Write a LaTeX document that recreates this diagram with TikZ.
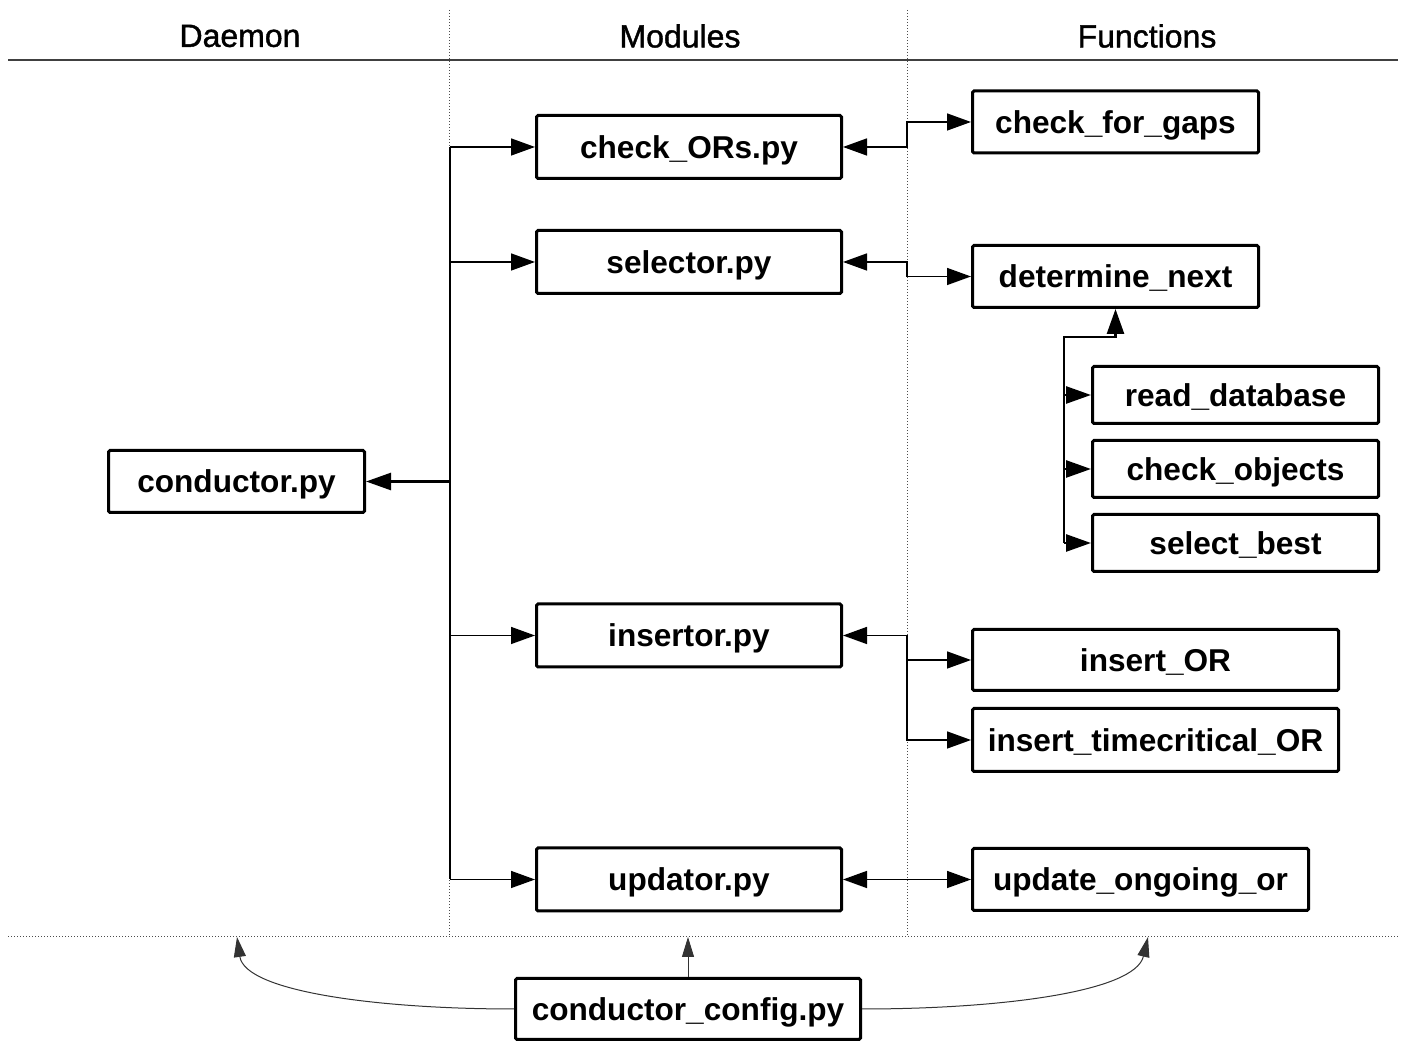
\documentclass[tikz,border=0pt]{standalone}
\usepackage{fontspec}
\setmainfont{Liberation Sans}
\newfontfamily\hdrfont[FakeBold=1.3]{Liberation Sans}
\usetikzlibrary{arrows.meta,calc}
\tikzset{
  fbox/.style={draw, line width=1.5pt, fill=white, rounded corners=0.8pt, inner sep=0pt,
    text depth=0pt,
    font=\bfseries\fontsize{15.8}{18}\selectfont},
  hdr/.style={font=\hdrfont\fontsize{16}{19}\selectfont},
  conn/.style={line width=0.75pt, black, >={Triangle[length=12pt,width=8.5pt]}},
  tree/.style={line width=1.3pt, black, >={Triangle[length=12.5pt,width=8.5pt]}},
  cfgarr/.style={line width=0.5pt, black!80, >={Triangle[length=10pt,width=6pt]}},
  sep/.style={densely dotted, line width=0.5pt, black!70},
}
\begin{document}
\begin{tikzpicture}[x=0.5pt,y=-0.5pt]
\useasboundingbox (0,0) rectangle (1405,1042);
% separators
\draw[line width=0.7pt, black!75] (8,60) -- (1398,60);
\draw[sep] (449,10) -- (449,935);
\draw[sep] (907,10) -- (907,935);
\draw[sep] (8,937) -- (1398,937);
% headers
\node[hdr] (hd) at (240,36) {Daemon};
\node[hdr] (hm) at (680,36) {Modules};
\node[hdr] (hf) at (1147,36) {Functions};
% boxes
\node[fbox, minimum width=128pt, minimum height=31pt] (cond) at (236.5,481.5) {conductor.py};
\node[fbox, minimum width=152.5pt, minimum height=31.5pt] (chk) at (689,147) {check\_ORs.py};
\node[fbox, minimum width=152.5pt, minimum height=31.5pt] (sel) at (689,262) {selector.py};
\node[fbox, minimum width=152.5pt, minimum height=31.5pt] (ins) at (689,635.5) {insertor.py};
\node[fbox, minimum width=152.5pt, minimum height=31.5pt] (upd) at (689,879.5) {updator.py};
\node[fbox, minimum width=143pt, minimum height=31pt] (gaps) at (1115.5,122) {check\_for\_gaps};
\node[fbox, minimum width=143pt, minimum height=31pt] (det) at (1115.5,276.5) {determine\_next};
\node[fbox, minimum width=143pt, minimum height=28.5pt] (rd) at (1235.5,395) {read\_database};
\node[fbox, minimum width=143pt, minimum height=28.5pt] (co) at (1235.5,469) {check\_objects};
\node[fbox, minimum width=143pt, minimum height=28.5pt] (sb) at (1235.5,543) {select\_best};
\node[fbox, minimum width=183pt, minimum height=30.5pt] (ior) at (1155.5,660) {insert\_OR};
\node[fbox, minimum width=183pt, minimum height=31.5pt] (itc) at (1155.5,740) {insert\_timecritical\_OR};
\node[fbox, minimum width=168pt, minimum height=31pt] (uor) at (1140.5,879.5) {update\_ongoing\_or};
\node[fbox, minimum width=172.5pt, minimum height=30.5pt] (cfg) at (688,1009) {conductor\_config.py};
% helper coordinates
\coordinate (trunk) at (450,481.5);
\coordinate (fx) at (907,0);
\coordinate (tx) at (1064,337);
\coordinate (botline) at (8,937);
\coordinate (dtarget) at (237,937);
\coordinate (ftarget) at (1148,937);
% trunk
\draw[conn] (trunk |- chk.west) -- (trunk |- upd.west);
\draw[conn,->] (trunk |- chk.west) -- (chk.west);
\draw[conn,->] (trunk |- sel.west) -- (sel.west);
\draw[conn,->] (trunk |- ins.west) -- (ins.west);
\draw[conn,->] (trunk |- upd.west) -- (upd.west);
\draw[tree,->] (trunk) -- (cond.east);
% modules to functions
\draw[conn,<->] (chk.east) -- (fx |- chk.east) |- (gaps.west);
\draw[conn,<->] (sel.east) -- (fx |- sel.east) |- (det.west);
\draw[conn,<->] (ins.east) -- (fx |- ins.east) |- (ior.west);
\draw[conn,->] (fx |- ins.east) |- (itc.west);
\draw[conn,<->] (upd.east) -- (uor.west);
% determine_next tree
\draw[tree,->] (tx |- sb.west) -- (tx) -| (det.south);
\draw[tree,->] (tx |- rd.west) -- (rd.west);
\draw[tree,->] (tx |- co.west) -- (co.west);
\draw[tree,->] (tx |- sb.west) -- (sb.west);
% config
\draw[cfgarr,->] (cfg.north) -- (cfg.north |- botline);
\draw[cfgarr,->] (cfg.west) .. controls (380,1009) and (245,992) .. (dtarget);
\draw[cfgarr,->] (cfg.east) .. controls (1000,1009) and (1135,992) .. (ftarget);
\end{tikzpicture}
\end{document}
